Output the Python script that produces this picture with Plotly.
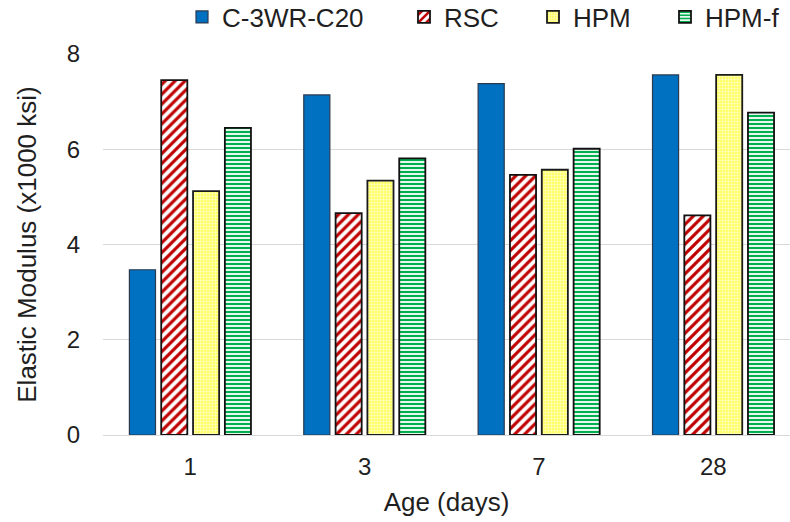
import plotly.graph_objects as go

# Ages (days) and elastic modulus (x1000 ksi) per mix
ages = ["1", "3", "7", "28"]
c3wr_c20 = [3.47, 7.14, 7.38, 7.56]
rsc = [7.45, 4.66, 5.46, 4.61]
hpm = [5.12, 5.34, 5.57, 7.56]
hpm_f = [6.45, 5.81, 6.01, 6.77]

W, H = 790, 522
FONT = "Liberation Sans, Arial, sans-serif"
TXT = "#1f1f1f"

fig = go.Figure()

fig.add_trace(go.Bar(
    name="C-3WR-C20", x=ages, y=c3wr_c20, legend="legend", showlegend=True,
    marker=dict(color="#0070C0", line=dict(color="#2b3a4f", width=1.2)),
))
fig.add_trace(go.Bar(
    name="RSC", x=ages, y=rsc, legend="legend2",
    marker=dict(
        color="white",
        line=dict(color="#111111", width=1.8),
        pattern=dict(shape="/", fgcolor="#C00000", bgcolor="white", fgopacity=1,
                     size=7, solidity=0.45, fillmode="replace"),
    ),
))
fig.add_trace(go.Bar(
    name="HPM", x=ages, y=hpm, legend="legend3",
    marker=dict(
        color="#FFFF4D",
        line=dict(color="#1a1a1a", width=1.8),
        pattern=dict(shape=".", fgcolor="#FFFFC0", bgcolor="#FFFF4D", fgopacity=1,
                     size=3, solidity=0.5, fillmode="replace"),
    ),
))
fig.add_trace(go.Bar(
    name="HPM-f", x=ages, y=hpm_f, legend="legend4",
    marker=dict(
        color="white",
        line=dict(color="#111111", width=1.8),
        pattern=dict(shape="-", fgcolor="#00B050", bgcolor="white", fgopacity=1,
                     size=4, solidity=0.55, fillmode="replace"),
    ),
))

leg_common = dict(orientation="h", xref="container", yref="container",
                  yanchor="middle", y=1 - 17 / H, xanchor="left",
                  bgcolor="rgba(0,0,0,0)", font=dict(family=FONT, size=26, color=TXT))

fig.update_layout(
    width=W, height=H,
    margin=dict(l=103, r=0, t=53.5, b=86.5),
    plot_bgcolor="white", paper_bgcolor="white",
    barmode="group", bargap=0.27, bargroupgap=0.18,
    showlegend=True,
    font=dict(family=FONT, size=24, color=TXT),
    legend=dict(x=(196 - 14) / W, **leg_common),
    legend2=dict(x=(418 - 14) / W, **leg_common),
    legend3=dict(x=(547 - 14) / W, **leg_common),
    legend4=dict(x=(679 - 14) / W, **leg_common),
    xaxis=dict(
        type="category", range=[-0.5, 3.44],
        showgrid=False, showline=True, linecolor="#D9D9D9", linewidth=1,
        ticks="", ticklabelstandoff=10, tickfont=dict(size=24, color=TXT),
        title=dict(text="Age (days)", font=dict(size=26, color=TXT), standoff=14),
    ),
    yaxis=dict(
        range=[0, 8], tickvals=[0, 2, 4, 6, 8],
        showgrid=True, gridcolor="#D9D9D9", gridwidth=1,
        zeroline=False, showline=False, ticks="",
        ticklabelstandoff=22, tickfont=dict(size=24, color=TXT),
        title=dict(text="Elastic Modulus (x1000 ksi)", font=dict(size=26, color=TXT), standoff=22),
    ),
)

fig.write_html("out.html")
